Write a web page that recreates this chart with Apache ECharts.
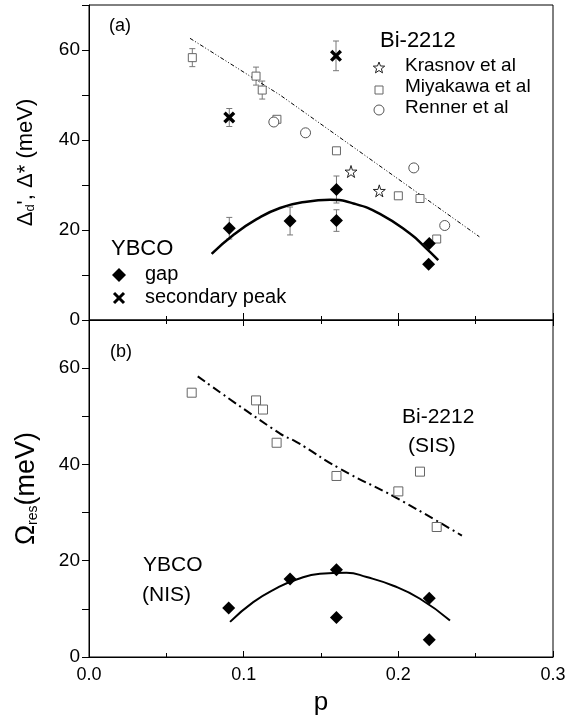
<!DOCTYPE html>
<html lang="en">
<head>
<meta charset="UTF-8">
<title>gap vs doping</title>
<style>
    html, body, #chart {
        margin: 0;
        padding: 0;
        overflow: hidden;
        width: 100%;
        height: 100%;
        background: #fff;
    }
</style>
</head>
<body>
<div id="chart"></div>
<script src="https://cdn.jsdelivr.net/npm/echarts@6/dist/echarts.min.js"></script>
<script>
    var FONT = '"Liberation Sans", Arial, sans-serif';

    // panel (a)  rows: [p, value, error]
    var gapA = [[0.0907, 20.4, 2.4], [0.130, 22.0, 3.1], [0.160, 29.0, 3.0], [0.160, 22.1, 2.4], [0.220, 17.0, 0], [0.2196, 12.4, 0]];
    var secondaryA = [[0.0907, 45.0, 2.0], [0.1597, 58.7, 3.3]];
    var krasnovA = [[0.1694, 33.0, 0], [0.1877, 28.7, 0]];
    var miyakawaA = [[0.0668, 58.3, 2.0], [0.108, 54.2, 2.0], [0.112, 51.1, 2.0], [0.1215, 44.6, 0], [0.160, 37.6, 0], [0.200, 27.6, 0], [0.214, 27.0, 0], [0.2248, 18.0, 0]];
    var rennerA = [[0.1195, 44.0, 0], [0.140, 41.6, 0], [0.210, 33.8, 0], [0.230, 21.0, 0]];
    var trendA = [[0.0653, 62.6], [0.1235, 50.0], [0.2524, 18.5]];
    var domeA = [[0.0793, 14.7], [0.0933, 18.9], [0.1084, 22.4], [0.1235, 24.9], [0.1407, 26.3], [0.1558, 26.7],
        [0.171, 25.9], [0.1881, 23.6], [0.2075, 19.2], [0.2172, 16.2], [0.2258, 13.3]];

    // panel (b)
    var miyakawaB = [[0.0664, 54.9], [0.108, 53.3], [0.1125, 51.4], [0.1213, 44.5], [0.160, 37.6], [0.200, 34.4], [0.214, 38.5], [0.2248, 27.0]];
    var gapB = [[0.0903, 10.2], [0.130, 16.2], [0.160, 18.1], [0.160, 8.2], [0.220, 12.2], [0.220, 3.6]];
    var trendB = [[0.0703, 58.3], [0.1235, 46.4], [0.134, 44.7], [0.1623, 39.1], [0.199, 33.0], [0.2411, 25.2]];
    var domeB = [[0.0912, 7.3], [0.1062, 11.4], [0.1213, 14.3], [0.1342, 16.1], [0.1493, 17.3], [0.1665, 17.5],
        [0.1795, 16.6], [0.1968, 14.8], [0.214, 12.1], [0.2334, 7.6]];

    var xTickLabels = ['0.0', '0.1', '0.2', '0.3'];
    var yTickLabels = [0, 20, 40, 60];

    var STAR = 'path://M50,0 L61,35 L98,35 L68,57 L79,91 L50,70 L21,91 L32,57 L2,35 L39,35 Z';
    var CROSS = 'path://M0,2 L2,0 L5,3 L8,0 L10,2 L7,5 L10,8 L8,10 L5,7 L2,10 L0,8 L3,5 Z';

    var chart = echarts.init(document.getElementById('chart'));

    function xy(rows) {
        return rows.map(function (r) { return [r[0], r[1]]; });
    }

    function errorBars(idx, rows) {
        return {
            type: 'custom',
            xAxisIndex: idx,
            yAxisIndex: idx,
            silent: true,
            z: 1,
            data: rows.filter(function (r) { return r[2] > 0; })
                .map(function (r) { return [r[0], r[1] - r[2], r[1] + r[2]]; }),
            encode: { x: 0, y: [1, 2] },
            renderItem: function (params, api) {
                var lo = api.coord([api.value(0), api.value(1)]);
                var hi = api.coord([api.value(0), api.value(2)]);
                var st = { stroke: '#777', lineWidth: 1 };
                return {
                    type: 'group',
                    children: [
                        { type: 'line', shape: { x1: lo[0], y1: lo[1], x2: hi[0], y2: hi[1] }, style: st },
                        { type: 'line', shape: { x1: lo[0] - 3, y1: lo[1], x2: lo[0] + 3, y2: lo[1] }, style: st },
                        { type: 'line', shape: { x1: hi[0] - 3, y1: hi[1], x2: hi[0] + 3, y2: hi[1] }, style: st }
                    ]
                };
            }
        };
    }

    function xAxis(grid, pos, showLabel, len) {
        return {
            type: 'value',
            gridIndex: grid,
            position: pos,
            min: 0,
            max: 0.3,
            interval: 0.1,
            axisLine: { lineStyle: { color: '#000', width: 1 } },
            axisTick: { inside: true, length: len, lineStyle: { color: '#000' } },
            minorTick: { show: true, splitNumber: 2, length: 4, lineStyle: { color: '#000' } },
            splitLine: { show: false },
            axisLabel: {
                show: showLabel,
                margin: 9,
                color: '#000',
                fontFamily: FONT,
                fontSize: 18,
                formatter: function (v) { return xTickLabels[Math.round(v * 10)]; }
            }
        };
    }

    function yAxis(grid, name, nameGap, rich) {
        return {
            type: 'value',
            gridIndex: grid,
            min: 0,
            max: 70,
            interval: 10,
            axisLine: { lineStyle: { color: '#000', width: 1 } },
            axisTick: { inside: false, length: 7, lineStyle: { color: '#000' } },
            splitLine: { show: false },
            axisLabel: {
                margin: 9,
                color: '#000',
                fontFamily: FONT,
                fontSize: 19,
                formatter: function (v) { return yTickLabels.indexOf(v) >= 0 ? String(v) : ''; }
            },
            name: name,
            nameLocation: 'middle',
            nameRotate: 90,
            nameGap: nameGap,
            nameTextStyle: { color: '#000', fontFamily: FONT, rich: rich }
        };
    }

    var axA = xAxis(0, 'bottom', false, 7);
    var axB = xAxis(1, 'bottom', true, 6);
    axB.name = 'p';
    axB.nameLocation = 'middle';
    axB.nameGap = 33;
    axB.nameTextStyle = { color: '#000', fontFamily: FONT, fontSize: 26 };
    var axBtop = xAxis(1, 'top', false, 6);

    var openSq = { color: '#fff', borderColor: '#666', borderWidth: 1, opacity: 1 };
    var solid = { color: '#000', opacity: 1 };

    function txt(x, y, text, size) {
        return {
            type: 'text', x: x, y: y, z: 10,
            style: {
                text: text, fill: '#000', font: size + 'px ' + FONT,
                align: 'left', verticalAlign: 'middle', textAlign: 'left', textVerticalAlign: 'middle'
            }
        };
    }

    function starPts(cx, cy, r) {
        var pts = [];
        for (var i = 0; i < 10; i++) {
            var a = -Math.PI / 2 + i * Math.PI / 5;
            var rr = i % 2 ? r * 0.42 : r;
            pts.push([cx + rr * Math.cos(a), cy + rr * Math.sin(a)]);
        }
        return pts;
    }

    chart.setOption({
        animation: false,
        backgroundColor: '#fff',
        grid: [
            { left: 89, right: 19, top: 5, height: 315, show: true, borderColor: '#000', borderWidth: 1 },
            { left: 89, right: 19, top: 320, height: 337, show: true, borderColor: '#000', borderWidth: 1 }
        ],
        xAxis: [axA, axB, axBtop],
        yAxis: [
            yAxis(0, '{a|Δ}{s|d}{a|\', Δ* (meV)}', 52, {
                a: { fontSize: 22, fontFamily: FONT, color: '#000' },
                s: { fontSize: 13, fontFamily: FONT, color: '#000', verticalAlign: 'bottom' }
            }),
            yAxis(1, '{a|Ω}{s|res}{a|(meV)}', 49, {
                a: { fontSize: 27, fontFamily: FONT, color: '#000' },
                s: { fontSize: 14, fontFamily: FONT, color: '#000', verticalAlign: 'bottom' }
            })
        ],
        graphic: [
            txt(109, 26, '(a)', 18),
            txt(380, 41, 'Bi-2212', 22),
            { type: 'polygon', shape: { points: starPts(379, 68, 6) }, style: { fill: '#fff', stroke: '#222', lineWidth: 1 } },
            txt(405, 66, 'Krasnov et al', 19),
            { type: 'rect', shape: { x: 375, y: 86, width: 8, height: 8 }, style: { fill: '#fff', stroke: '#666', lineWidth: 1 } },
            txt(405, 87, 'Miyakawa et al', 19),
            { type: 'circle', shape: { cx: 379, cy: 110, r: 5 }, style: { fill: '#fff', stroke: '#555', lineWidth: 1 } },
            txt(405, 108, 'Renner et al', 19),
            txt(111, 249, 'YBCO', 22),
            { type: 'polygon', shape: { points: [[119, 268], [126, 275], [119, 282], [112, 275]] }, style: { fill: '#000' } },
            txt(145, 274, 'gap', 20),
            { type: 'line', shape: { x1: 114, y1: 293, x2: 124, y2: 303 }, style: { stroke: '#000', lineWidth: 3 } },
            { type: 'line', shape: { x1: 124, y1: 293, x2: 114, y2: 303 }, style: { stroke: '#000', lineWidth: 3 } },
            txt(145, 297, 'secondary peak', 20),
            txt(110, 352, '(b)', 18),
            txt(402, 417, 'Bi-2212', 21),
            txt(408, 446, '(SIS)', 21),
            txt(143, 565, 'YBCO', 21),
            txt(142, 595, '(NIS)', 21)
        ],
        series: [
            errorBars(0, gapA),
            errorBars(0, secondaryA),
            errorBars(0, miyakawaA),
            {
                type: 'line', xAxisIndex: 0, yAxisIndex: 0, data: trendA, symbol: 'none', z: 2,
                lineStyle: { color: '#000', width: 1, type: [4, 2, 1, 2, 1, 2] }
            },
            {
                type: 'line', xAxisIndex: 0, yAxisIndex: 0, data: domeA, symbol: 'none', smooth: 0.5, z: 2,
                lineStyle: { color: '#000', width: 2.5 }
            },
            {
                name: 'Miyakawa et al', type: 'scatter', xAxisIndex: 0, yAxisIndex: 0, data: xy(miyakawaA),
                symbol: 'rect', symbolSize: 8, itemStyle: openSq, z: 3
            },
            {
                name: 'Renner et al', type: 'scatter', xAxisIndex: 0, yAxisIndex: 0, data: xy(rennerA),
                symbol: 'circle', symbolSize: 10, itemStyle: { color: '#fff', borderColor: '#555', borderWidth: 1, opacity: 1 }, z: 3
            },
            {
                name: 'Krasnov et al', type: 'scatter', xAxisIndex: 0, yAxisIndex: 0, data: xy(krasnovA),
                symbol: STAR, symbolSize: 12, itemStyle: { color: '#fff', borderColor: '#222', borderWidth: 1, opacity: 1 }, z: 3
            },
            {
                name: 'gap', type: 'scatter', xAxisIndex: 0, yAxisIndex: 0, data: xy(gapA),
                symbol: 'diamond', symbolSize: 13, itemStyle: solid, z: 4
            },
            {
                name: 'secondary peak', type: 'scatter', xAxisIndex: 0, yAxisIndex: 0, data: xy(secondaryA),
                symbol: CROSS, symbolSize: 12, itemStyle: solid, z: 4
            },
            {
                type: 'line', xAxisIndex: 1, yAxisIndex: 1, data: trendB, symbol: 'none', smooth: true, z: 2,
                lineStyle: { color: '#000', width: 2, type: [9, 4, 2, 4] }
            },
            {
                type: 'line', xAxisIndex: 1, yAxisIndex: 1, data: domeB, symbol: 'none', smooth: true, z: 2,
                lineStyle: { color: '#000', width: 2 }
            },
            {
                name: 'Bi-2212 (SIS)', type: 'scatter', xAxisIndex: 1, yAxisIndex: 1, data: miyakawaB,
                symbol: 'rect', symbolSize: 9, itemStyle: openSq, z: 3
            },
            {
                name: 'YBCO (NIS)', type: 'scatter', xAxisIndex: 1, yAxisIndex: 1, data: gapB,
                symbol: 'diamond', symbolSize: 13, itemStyle: solid, z: 4
            }
        ]
    });
</script>
</body>
</html>
